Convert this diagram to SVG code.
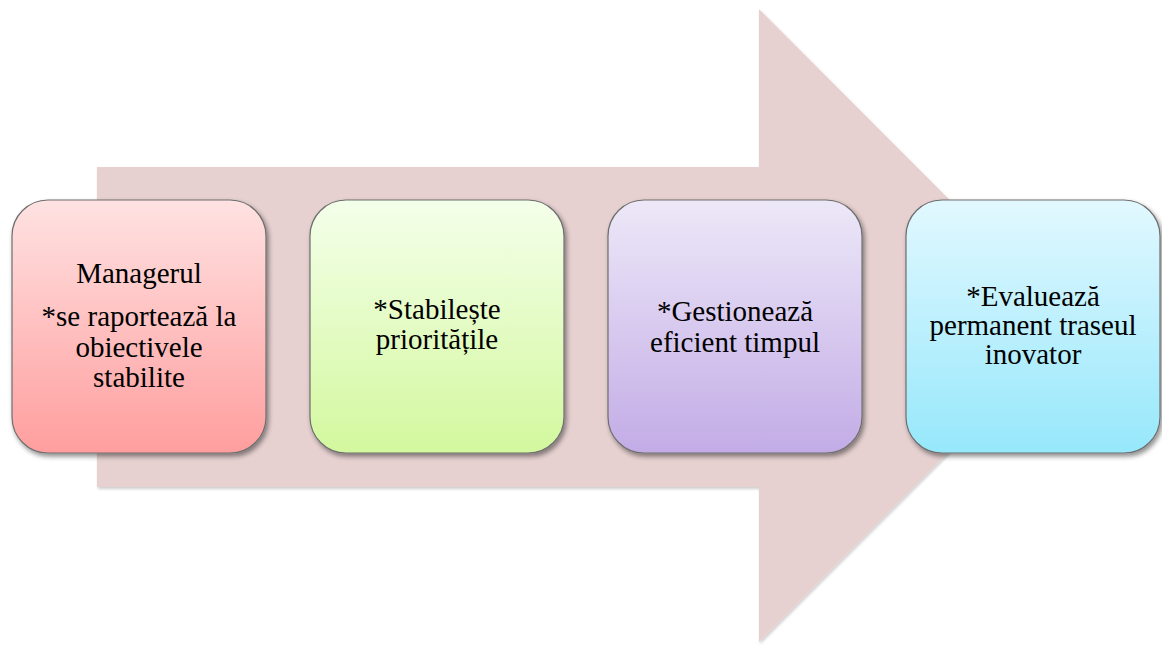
<svg xmlns="http://www.w3.org/2000/svg" width="1162" height="646" viewBox="0 0 1162 646">
<style>
.t{font-family:'Liberation Serif','Times New Roman',serif;font-size:29px;fill:#000;text-anchor:middle}
.box{stroke:#6e6e6e;stroke-width:1.2}
</style>
<defs>
<linearGradient id="g1" x1="0" y1="0" x2="0" y2="1"><stop offset="0" stop-color="#ffe2e2"/><stop offset="1" stop-color="#ff9e9e"/></linearGradient>
<linearGradient id="g2" x1="0" y1="0" x2="0" y2="1"><stop offset="0" stop-color="#f4ffea"/><stop offset="1" stop-color="#d3f89e"/></linearGradient>
<linearGradient id="g3" x1="0" y1="0" x2="0" y2="1"><stop offset="0" stop-color="#ede8f8"/><stop offset="1" stop-color="#c3ace6"/></linearGradient>
<linearGradient id="g4" x1="0" y1="0" x2="0" y2="1"><stop offset="0" stop-color="#e2f8ff"/><stop offset="1" stop-color="#96e8fb"/></linearGradient>
<filter id="sh" x="-10%" y="-10%" width="125%" height="125%">
<feGaussianBlur in="SourceAlpha" stdDeviation="2.5"/>
<feOffset dx="1.5" dy="3" result="b"/>
<feComponentTransfer><feFuncA type="linear" slope="0.45"/></feComponentTransfer>
<feMerge><feMergeNode/><feMergeNode in="SourceGraphic"/></feMerge>
</filter>
<filter id="sh2" x="-5%" y="-5%" width="110%" height="110%">
<feGaussianBlur in="SourceAlpha" stdDeviation="1.5"/>
<feOffset dx="1" dy="1.5"/>
<feComponentTransfer><feFuncA type="linear" slope="0.2"/></feComponentTransfer>
<feMerge><feMergeNode/><feMergeNode in="SourceGraphic"/></feMerge>
</filter>
</defs>
<g id="arrow">
<path d="M97,167 H759 V9 L1075,325.5 L759,642 V487 H97 Z" fill="#e6d0d0" filter="url(#sh2)"/>
</g>
<g id="connectors"></g>
<g id="node1">
<rect class="box" x="12" y="200" width="254" height="253" rx="36" fill="url(#g1)" filter="url(#sh)"/>
<text class="t" x="139" y="283">Managerul</text>
<text class="t" x="139" y="326">*se raportează la</text>
<text class="t" x="139" y="357">obiectivele</text>
<text class="t" x="139" y="387">stabilite</text>
</g>
<g id="node2">
<rect class="box" x="310" y="200" width="254" height="253" rx="36" fill="url(#g2)" filter="url(#sh)"/>
<text class="t" x="437" y="319">*Stabilește</text>
<text class="t" x="437" y="349">prioritățile</text>
</g>
<g id="node3">
<rect class="box" x="608" y="200" width="254" height="253" rx="36" fill="url(#g3)" filter="url(#sh)"/>
<text class="t" x="735" y="321">*Gestionează</text>
<text class="t" x="735" y="352">eficient timpul</text>
</g>
<g id="node4">
<rect class="box" x="906" y="200" width="254" height="253" rx="36" fill="url(#g4)" filter="url(#sh)"/>
<text class="t" x="1033" y="306">*Evaluează</text>
<text class="t" x="1033" y="335">permanent traseul</text>
<text class="t" x="1033" y="364">inovator</text>
</g>
</svg>
